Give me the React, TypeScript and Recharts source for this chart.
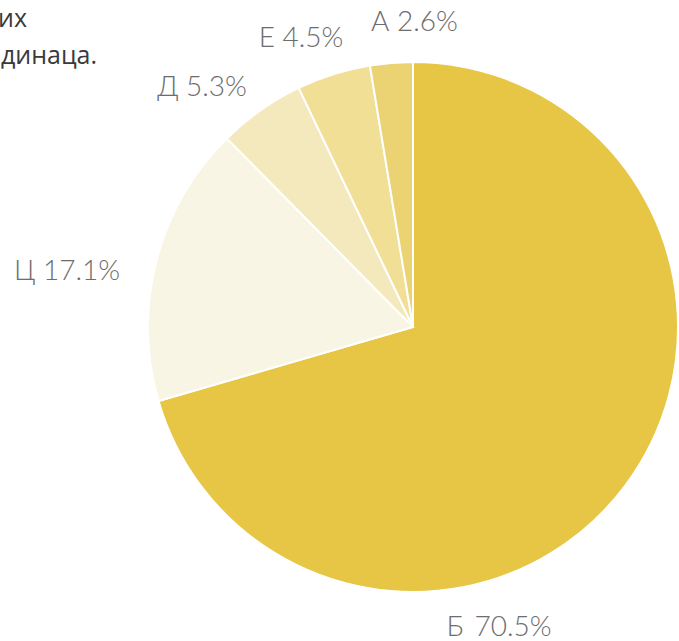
import { PieChart, Pie, Cell } from 'recharts';

const names = ['Б', 'Ц', 'Д', 'Е', 'А'];
const shares = [70.5, 17.1, 5.3, 4.5, 2.6];
const colors = ['#E6C644', '#F9F5E4', '#F4E9BD', '#F0DF94', '#EBD373'];

// tail of the paragraph text cut off at the left edge
const textLines = ['их', 'динаца.'];

const data = names.map((name, i) => ({ name, value: shares[i] }));

// label anchor offsets from the pie centre (text centre x, baseline y)
const labelOffset: Record<string, [number, number]> = {
  Б: [86, 309],
  Ц: [-346, -47],
  Д: [-211, -231],
  Е: [-112, -280],
  А: [1.5, -296],
};

const renderLabel = (props: any) => {
  const { cx, cy, name, value } = props;
  const [dx, dy] = labelOffset[name] || [0, 0];
  const gap = name === 'Б' ? '\u00A0\u2009' : ' ';
  return (
    <text
      x={cx + dx}
      y={cy + dy}
      textAnchor="middle"
      fill="#6d6d6d"
      stroke="none"
      fontSize={28}
      fontWeight={300}
      fontFamily="Lato, 'Open Sans', sans-serif"
    >
      {`${name}${gap}${value.toFixed(1)}%`}
    </text>
  );
};

export default function App() {
  return (
    <div style={{ position: 'absolute', left: 0, top: 0, width: 679, height: 641, background: '#fff', overflow: 'hidden' }}>
      <svg width={679} height={641} style={{ position: 'absolute', left: 0, top: 0 }}>
        {textLines.map((t, i) => (
          <text
            key={t}
            x={i === 0 ? 27 : 97}
            y={27 + i * 37}
            textAnchor="end"
            fill="#3a3a3a"
            fontSize={25}
            fontFamily="'Open Sans', 'Noto Sans', sans-serif"
          >
            {t}
          </text>
        ))}
      </svg>
      <div style={{ position: 'absolute', left: 0, top: 0 }}>
        <PieChart width={679} height={641} margin={{ top: 0, right: 0, bottom: 0, left: 0 }}>
          <Pie
            data={data}
            dataKey="value"
            nameKey="name"
            cx={413}
            cy={327}
            outerRadius={265}
            startAngle={90}
            endAngle={-270}
            stroke="#ffffff"
            strokeWidth={2}
            labelLine={false}
            label={renderLabel}
            isAnimationActive={false}
          >
            {data.map((d, i) => (
              <Cell key={d.name} fill={colors[i]} />
            ))}
          </Pie>
        </PieChart>
      </div>
    </div>
  );
}
